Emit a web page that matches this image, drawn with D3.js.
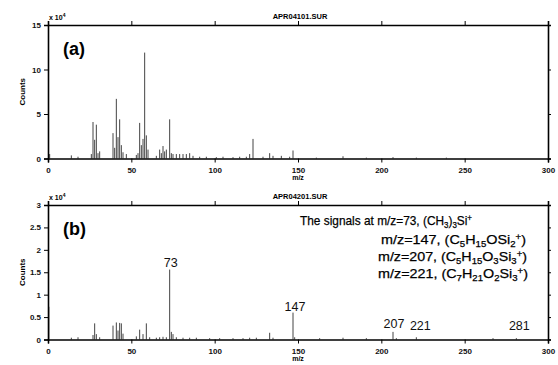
<!DOCTYPE html>
<html>
<head>
<meta charset="utf-8">
<script src="https://cdn.jsdelivr.net/npm/d3@7"></script>
<style>
  body { margin: 0; background: #fff; }
  svg { display: block; font-family: "Liberation Sans", Arial, sans-serif; }
</style>
</head>
<body>
<div id="chart"></div>
<script>
// spectrum (a), counts x 10^4
var mzA = [1, 14, 18, 26, 27, 28, 29, 30, 31, 39, 40, 41, 42, 43, 44, 45, 47, 53, 54, 55, 56, 57, 58, 59, 60, 65, 67, 68, 69, 70, 71, 73, 74, 75, 77, 79, 81, 83, 85, 87, 91, 95, 101, 105, 111, 115, 119, 121, 123, 129, 133, 135, 140, 145, 147, 161, 177, 191, 207, 221, 239];
var valA = [0.5, 0.35, 0.2, 0.5, 4.1, 2.1, 3.8, 0.6, 0.8, 2.85, 1.2, 6.7, 2.4, 4.4, 1.5, 0.7, 0.5, 0.4, 0.6, 4.0, 1.5, 2.2, 11.9, 2.6, 1.0, 0.3, 1.0, 0.6, 1.4, 0.8, 1.0, 4.4, 0.6, 0.5, 0.5, 0.5, 0.5, 0.5, 0.6, 0.3, 0.2, 0.2, 0.15, 0.2, 0.15, 0.2, 0.2, 0.5, 2.2, 0.2, 0.6, 0.3, 0.3, 0.2, 0.9, 0.1, 0.25, 0.1, 0.15, 0.1, 0.1];

// spectrum (b), counts x 10^4
var mzB = [0.5, 14, 18, 27, 28, 29, 31, 39, 41, 42, 43, 44, 45, 53, 55, 57, 59, 61, 65, 67, 69, 71, 73, 74, 75, 77, 81, 85, 89, 97, 103, 111, 117, 121, 125, 133, 135, 147, 148, 163, 177, 191, 207, 209, 221, 267, 281];
var valB = [0.73, 0.04, 0.05, 0.1, 0.36, 0.12, 0.05, 0.31, 0.38, 0.2, 0.37, 0.36, 0.13, 0.07, 0.22, 0.12, 0.36, 0.05, 0.04, 0.05, 0.06, 0.05, 1.56, 0.17, 0.12, 0.05, 0.04, 0.04, 0.04, 0.03, 0.03, 0.03, 0.03, 0.04, 0.04, 0.15, 0.04, 0.6, 0.05, 0.03, 0.04, 0.03, 0.17, 0.03, 0.05, 0.03, 0.03];

var xTicks = [0, 50, 100, 150, 200, 250, 300];
var yTicksA = [0, 5, 10, 15];
var yTicksB = [0, 0.5, 1, 1.5, 2, 2.5, 3];
var yTickLabelsB = ["0", "0.5", "1", "1.5", "2", "2.5", "3"];

var titles = ["APR04101.SUR", "APR04201.SUR"];
var panelNames = ["(a)", "(b)"];
var labelPeaks = [73, 147, 207, 221, 281];

// annotation lines: [text, "" | "sub" | "sup"]
var noteLines = [
  [["The signals at m/z=73, (CH", ""], ["3", "sub"], [")", ""], ["3", "sub"], ["Si", ""], ["+", "sup"]],
  [["m/z=147, (C", ""], ["5", "sub"], ["H", ""], ["15", "sub"], ["OSi", ""], ["2", "sub"], ["+", "sup"], [")", ""]],
  [["m/z=207, (C", ""], ["5", "sub"], ["H", ""], ["15", "sub"], ["O", ""], ["3", "sub"], ["Si", ""], ["3", "sub"], ["+", "sup"], [")", ""]],
  [["m/z=221, (C", ""], ["7", "sub"], ["H", ""], ["21", "sub"], ["O", ""], ["2", "sub"], ["Si", ""], ["3", "sub"], ["+", "sup"], [")", ""]]
];

var width = 558, height = 365;

var svg = d3.select("#chart")
  .append("svg")
  .attr("width", width)
  .attr("height", height);

var x = d3.scaleLinear().domain([0, 300]).range([48, 548]);

function drawPanel(top, bottom, yMax, yTicks, yLabels, mz, val, title, name) {
  var y = d3.scaleLinear().domain([0, yMax]).range([bottom, top]);
  var g = svg.append("g");

  // sticks
  g.selectAll(".stick")
    .data(mz.map(function (d, i) { return { mz: d, v: val[i] }; }))
    .enter()
    .append("line")
    .attr("class", "stick")
    .attr("x1", function (d) { return x(d.mz); })
    .attr("x2", function (d) { return x(d.mz); })
    .attr("y1", y(0))
    .attr("y2", function (d) { return y(d.v); })
    .style("stroke", "#444")
    .style("stroke-width", 1);

  // axes
  var bottomAxis = d3.axisBottom(x).tickValues(xTicks).tickSize(4).tickPadding(5);
  var topAxis = d3.axisTop(x).tickValues(xTicks).tickSize(4).tickFormat("");
  var leftAxis = d3.axisLeft(y).tickValues(yTicks).tickSize(4).tickPadding(3)
    .tickFormat(function (d, i) { return yLabels[i]; });
  var rightAxis = d3.axisRight(y).tickValues(yTicks).tickSize(3).tickFormat("");

  g.append("g").attr("transform", "translate(0," + bottom + ")").call(bottomAxis);
  g.append("g").attr("transform", "translate(0," + top + ")").call(topAxis);
  g.append("g").attr("transform", "translate(" + x(0) + ",0)").call(leftAxis);
  g.append("g").attr("transform", "translate(" + x(300) + ",0)").call(rightAxis);

  g.selectAll(".domain").style("stroke", "#000").style("stroke-width", 1.6);
  g.selectAll(".tick line").style("stroke", "#000").style("stroke-width", 1);
  g.selectAll(".tick text")
    .style("font-size", "8px")
    .style("font-weight", "bold")
    .style("fill", "#111");

  // title, multiplier, axis names
  g.append("text")
    .attr("x", (x(0) + x(300)) / 2 + 2)
    .attr("y", top - 6)
    .attr("text-anchor", "middle")
    .style("font-size", "7.5px")
    .style("font-weight", "bold")
    .text(title);

  var mult = g.append("text")
    .attr("x", x(0) + 1)
    .attr("y", top - 5)
    .style("font-size", "7px")
    .style("font-weight", "bold");
  mult.append("tspan").text("x 10");
  mult.append("tspan").attr("dy", -3).style("font-size", "5px").text("4");

  g.append("text")
    .attr("transform", "translate(25," + ((top + bottom) / 2) + ") rotate(-90)")
    .attr("text-anchor", "middle")
    .style("font-size", "8px")
    .style("font-weight", "bold")
    .text("Counts");

  g.append("text")
    .attr("x", (x(0) + x(300)) / 2)
    .attr("y", bottom + 21)
    .attr("text-anchor", "middle")
    .style("font-size", "7px")
    .style("font-weight", "bold")
    .text("m/z");

  g.append("text")
    .attr("x", 63)
    .attr("y", top + 30)
    .style("font-size", "18px")
    .style("font-weight", "bold")
    .text(name);

  return y;
}

var yA = drawPanel(25, 158.5, 15, yTicksA, yTicksA.map(String), mzA, valA, titles[0], panelNames[0]);
var yB = drawPanel(205, 339.5, 3, yTicksB, yTickLabelsB, mzB, valB, titles[1], panelNames[1]);

// peak labels in (b)
var labelDx = [1, 2, 1, 4, 3];
var labelDy = [3, 2, 3, 1, 1];
svg.selectAll(".peakLabel")
  .data(labelPeaks)
  .enter()
  .append("text")
  .attr("class", "peakLabel")
  .attr("x", function (d, i) { return x(d) + labelDx[i]; })
  .attr("y", function (d, i) {
    var v = valB[mzB.indexOf(d)];
    return Math.min(yB(v), yB(0.2)) - labelDy[i];
  })
  .attr("text-anchor", "middle")
  .style("font-size", "12.5px")
  .style("fill", "#111")
  .text(function (d) { return d; });

// annotation block
var noteX = [300, 381, 378, 378];
var noteY = [225, 244, 261, 278];
var noteW = [172, 145, 149, 150];

noteLines.forEach(function (parts, i) {
  var t = svg.append("text")
    .attr("x", noteX[i])
    .attr("y", noteY[i])
    .attr("textLength", noteW[i])
    .attr("lengthAdjust", "spacingAndGlyphs")
    .style("font-size", "13.5px")
    .style("fill", "#000")
    .style("stroke", "#000")
    .style("stroke-width", 0.25);
  var shift = 0;
  parts.forEach(function (p) {
    var target = p[1] === "sub" ? 3 : (p[1] === "sup" ? -4 : 0);
    t.append("tspan")
      .attr("dy", target - shift)
      .style("font-size", p[1] ? "9px" : "13.5px")
      .text(p[0]);
    shift = target;
  });
});
</script>
</body>
</html>
